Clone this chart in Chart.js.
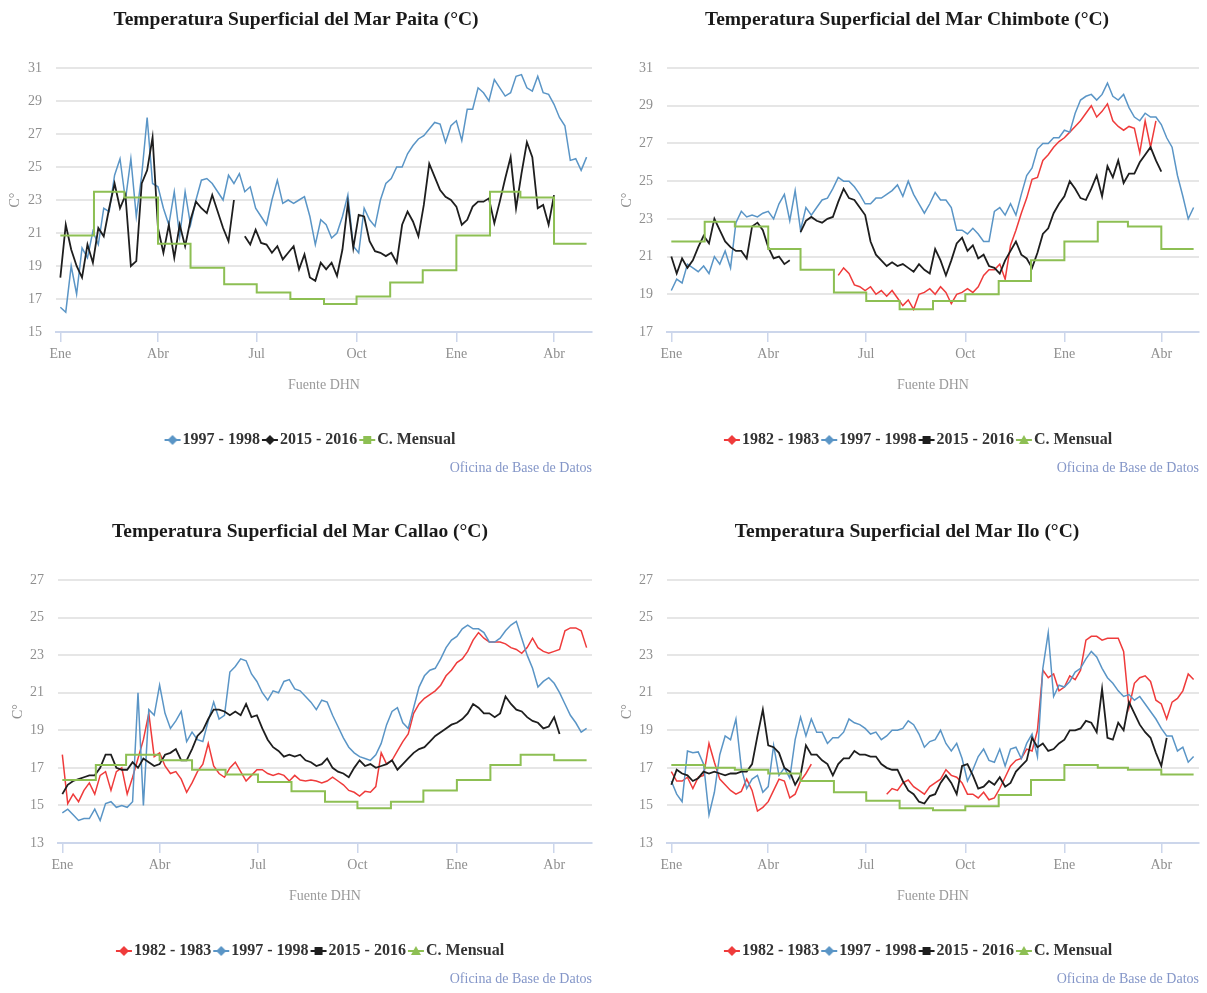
<!DOCTYPE html>
<html>
<head>
<meta charset="utf-8">
<title>Temperatura Superficial del Mar</title>
<script src="https://cdn.jsdelivr.net/npm/chart.js@4.4.1/dist/chart.umd.min.js"></script>
<style>
  html, body { margin: 0; padding: 0; background: #fff; }
  #wrap { position: relative; width: 1207px; height: 993px; }
  canvas { position: absolute; }
</style>
</head>
<body>
<div id="wrap">
  <canvas id="paita" width="603" height="496" style="left:0;top:0"></canvas>
  <canvas id="chimbote" width="604" height="496" style="left:603px;top:0"></canvas>
  <canvas id="callao" width="603" height="497" style="left:0;top:496px"></canvas>
  <canvas id="ilo" width="604" height="497" style="left:603px;top:496px"></canvas>
</div>
<script>
// x = days since 1 Jan of the first year; series values every 5 days
const STEP = 5;
const tickDays = [0, 90, 181, 273, 365, 455];
const tickLabels = ['Ene', 'Abr', 'Jul', 'Oct', 'Ene', 'Abr'];
const monthStarts = [0, 31, 59, 90, 120, 151, 181, 212, 243, 273, 304, 334, 365, 396, 424, 455, 485];

// Paita
const paitaBlue = [
  16.5,16.2,19.0,17.3,20.1,19.5,21.1,20.3,22.5,22.3,
  24.5,25.5,23.0,25.5,22.0,24.5,28.0,24.0,23.8,22.5,
  21.5,23.5,20.8,23.5,21.5,23.0,24.2,24.3,24.0,23.5,
  23.0,24.5,24.0,24.6,23.5,23.8,22.5,22.0,21.5,23.0,
  24.2,22.8,23.0,22.8,23.0,23.2,22.0,20.3,21.8,21.5,
  20.7,21.0,22.0,23.3,20.2,19.8,22.5,21.8,21.4,23.0,
  24.0,24.3,25.0,25.0,25.8,26.3,26.7,26.9,27.3,27.7,
  27.6,26.5,27.5,27.8,26.6,28.5,28.5,29.8,29.5,29.0,
  30.3,29.8,29.3,29.5,30.5,30.6,29.8,29.6,30.5,29.5,
  29.4,28.8,28.0,27.5,25.4,25.5,24.8,25.6
];
const paitaBlack = [
  18.3,21.5,20.0,19.0,18.3,20.3,19.2,21.3,20.8,22.5,
  24.0,22.5,23.3,19.0,19.3,24.0,24.8,26.8,21.3,19.8,
  21.5,19.5,21.5,20.2,21.8,22.9,22.5,22.2,23.3,22.3,
  21.3,20.5,23.0,null,20.8,20.3,21.2,20.4,20.3,19.8,
  20.2,19.4,19.8,20.2,18.8,19.7,18.3,18.1,19.2,18.8,
  19.2,18.4,20.0,22.8,20.1,22.1,22.0,20.5,19.9,19.8,
  19.6,19.8,19.2,21.5,22.3,21.7,20.8,22.7,25.2,24.4,
  23.6,23.2,23.0,22.6,21.5,21.8,22.6,22.9,22.9,23.1,
  21.6,22.9,24.3,25.6,22.5,24.6,26.5,25.6,22.5,22.7,
  21.5,23.3
];
const paitaClim = [20.85,23.5,23.15,20.35,18.9,17.9,17.4,17.0,16.7,17.15,18.0,18.75,20.85,23.5,23.15,20.35,20.35];

// Chimbote
const chimboteRedStart = 155;
const chimboteRed = [
  20.0,20.4,20.1,19.5,19.4,19.2,19.4,19.0,19.2,
  18.9,19.2,18.8,18.4,18.7,18.2,19.0,19.1,19.3,19.0,
  19.4,19.1,18.5,19.0,19.1,19.3,19.1,19.4,20.0,20.3,
  20.3,20.6,19.8,21.6,22.4,23.3,24.1,25.1,25.2,26.1,
  26.4,26.8,27.1,27.3,27.6,27.9,28.2,28.6,29.0,28.4,
  28.7,29.1,28.2,27.9,27.7,27.9,27.8,26.5,28.2,26.8,
  28.2
];
const chimboteBlue = [
  19.2,19.8,19.6,20.6,20.4,20.2,20.5,20.1,21.0,20.6,
  21.3,20.4,22.8,23.4,23.1,23.2,23.1,23.3,23.4,23.0,
  23.8,24.3,22.9,24.5,22.4,23.6,23.2,23.6,24.0,24.1,
  24.6,25.2,25.0,25.0,24.7,24.3,23.8,23.8,24.1,24.1,
  24.3,24.5,24.8,24.2,25.0,24.3,23.8,23.3,23.8,24.4,
  24.0,24.0,23.6,22.4,22.4,22.2,22.5,22.2,21.8,21.8,
  23.4,23.6,23.2,23.8,23.2,24.3,25.3,25.7,26.7,27.0,
  27.0,27.3,27.3,27.7,27.6,28.6,29.3,29.5,29.6,29.3,
  29.6,30.2,29.5,29.3,29.6,28.9,28.4,28.2,28.6,28.4,
  28.4,28.0,27.3,26.8,25.3,24.2,23.0,23.6
];
const chimboteBlack = [
  21.0,20.1,20.9,20.4,20.8,21.5,22.1,21.7,23.0,22.4,
  21.8,21.5,21.3,21.3,20.9,22.6,22.8,22.4,21.5,20.9,
  21.0,20.6,20.8,null,22.3,22.9,23.1,22.9,22.8,23.0,
  23.1,23.9,24.6,24.1,24.0,23.6,23.2,21.8,21.1,20.8,
  20.5,20.7,20.5,20.6,20.4,20.2,20.6,20.3,20.1,21.4,
  20.8,20.0,20.8,21.7,22.0,21.3,21.6,20.9,21.1,20.5,
  20.4,20.1,20.8,21.3,21.8,21.1,20.9,20.4,21.2,22.2,
  22.5,23.3,23.8,24.2,25.0,24.6,24.1,24.0,24.6,25.3,
  24.2,25.8,25.2,26.1,24.9,25.4,25.4,26.0,26.4,26.8,
  26.1,25.5
];
const chimboteClim = [21.8,22.85,22.6,21.4,20.3,19.1,18.65,18.2,18.65,19.0,19.7,20.8,21.8,22.85,22.6,21.4,21.4];

// Callao
const callaoRed = [
  17.7,15.1,15.6,15.2,15.8,16.2,15.6,16.6,16.8,15.8,
  16.8,17.0,15.6,16.5,17.5,18.5,19.9,17.6,17.8,17.1,
  16.7,16.8,16.4,15.7,16.2,16.8,17.2,18.3,17.1,16.7,
  16.5,17.0,17.3,16.8,16.3,16.6,16.9,16.9,16.7,16.6,
  16.7,16.6,16.3,16.6,16.35,16.3,16.35,16.3,16.2,16.3,
  16.5,16.3,16.1,15.8,15.7,15.5,15.75,15.7,16.0,17.8,
  17.2,17.4,17.9,18.4,18.8,19.9,20.4,20.7,20.9,21.1,
  21.4,21.9,22.2,22.6,22.8,23.2,23.8,24.2,23.9,23.7,
  23.7,23.7,23.6,23.4,23.3,23.1,23.4,23.9,23.4,23.2,
  23.1,23.2,23.3,24.3,24.45,24.45,24.3,23.4
];
const callaoBlue = [
  14.6,14.8,14.5,14.2,14.3,14.3,14.8,14.2,15.1,15.2,
  14.9,15.0,14.9,15.2,21.0,15.0,20.1,19.8,21.4,19.9,
  19.1,19.5,20.0,18.4,18.9,18.5,18.4,19.5,20.5,19.6,
  19.8,22.1,22.4,22.8,22.7,22.0,21.6,21.0,20.6,21.1,
  21.0,21.6,21.7,21.2,21.1,20.8,20.5,20.1,20.6,20.5,
  19.8,19.2,18.6,18.1,17.8,17.6,17.5,17.4,17.7,18.3,
  19.3,20.0,20.2,19.4,19.1,20.2,21.3,21.9,22.2,22.3,
  22.8,23.4,23.8,24.0,24.4,24.6,24.4,24.4,24.2,23.7,
  23.7,23.9,24.3,24.6,24.8,23.9,23.0,22.3,21.3,21.6,
  21.8,21.5,21.0,20.4,19.8,19.4,18.9,19.1
];
const callaoBlack = [
  15.6,16.1,16.3,16.4,16.5,16.6,16.6,17.0,17.7,17.7,
  17.0,16.9,16.9,17.3,17.0,17.5,17.3,17.1,17.2,17.7,
  17.8,18.0,17.4,17.4,18.0,18.7,19.0,19.6,20.1,20.1,
  20.0,19.8,20.0,19.8,20.4,19.7,19.8,19.1,18.5,18.1,
  17.9,17.6,17.7,17.6,17.7,17.4,17.3,17.1,17.2,17.5,
  17.0,16.8,16.7,16.5,17.0,17.4,17.1,17.2,17.0,17.1,
  17.2,17.4,16.9,17.2,17.5,17.8,18.0,18.1,18.4,18.7,
  18.9,19.1,19.3,19.4,19.6,19.9,20.4,20.2,19.9,19.9,
  19.7,19.9,20.8,20.4,20.1,20.0,19.7,19.5,19.4,19.1,
  19.2,19.7,18.8
];
const callaoClim = [16.35,17.15,17.7,17.4,16.9,16.65,16.25,15.75,15.2,14.85,15.2,15.8,16.35,17.15,17.7,17.4,17.4];

// Ilo
const iloRed = [
  16.8,16.3,16.3,16.5,15.9,16.5,16.6,18.3,17.3,16.4,
  16.1,15.8,15.6,15.75,16.4,15.8,14.7,14.9,15.2,15.8,
  16.4,16.3,15.4,15.6,16.3,16.7,17.2,null,null,null,
  null,null,null,null,null,null,null,null,null,null,
  15.6,15.9,15.8,16.2,16.35,16.0,15.8,15.6,16.0,16.2,
  16.4,16.9,16.6,16.5,16.2,15.6,15.6,15.4,15.7,15.3,
  15.4,15.9,16.5,17.1,17.4,17.5,18.0,17.9,19.0,22.2,
  21.8,22.0,21.1,21.3,21.9,21.7,22.2,23.8,24.0,24.0,
  23.8,23.9,23.9,23.9,23.2,20.2,21.5,21.8,21.9,21.6,
  20.6,20.4,19.6,20.5,20.7,21.1,22.0,21.7
];
const iloBlue = [
  16.3,15.6,15.2,17.9,17.8,17.85,17.2,14.5,15.7,17.7,
  18.7,18.5,19.6,17.0,15.9,16.4,16.6,15.7,16.0,18.2,
  16.6,17.0,16.45,18.5,19.7,18.7,19.6,18.9,18.9,18.3,
  18.6,18.6,18.9,19.6,19.4,19.3,19.1,18.8,18.9,18.5,
  18.7,19.0,19.0,19.1,19.5,19.3,18.8,18.1,18.4,18.5,
  19.0,18.3,17.9,18.3,17.5,16.3,16.9,17.6,18.0,17.4,
  17.3,18.0,17.1,18.0,18.1,17.5,18.3,18.8,17.6,22.3,
  24.2,20.8,21.4,21.3,21.6,22.1,22.3,22.8,23.2,22.9,
  22.3,21.8,21.5,21.1,20.8,20.9,20.6,20.8,20.4,20.0,
  19.6,19.1,18.7,18.7,17.9,18.1,17.3,17.6
];
const iloBlack = [
  16.1,16.9,16.7,16.6,16.3,16.45,16.8,16.7,16.8,16.7,
  16.6,16.7,16.7,16.8,16.8,17.2,18.7,20.1,18.2,18.1,
  17.8,17.0,16.8,16.1,16.6,18.2,17.7,17.7,17.4,17.2,
  16.6,17.2,17.5,17.5,17.9,17.7,17.7,17.6,17.6,17.2,
  17.0,16.9,16.9,16.3,15.8,15.6,15.2,15.1,15.5,15.6,
  16.2,16.6,16.2,15.6,17.1,17.2,16.6,15.9,16.0,16.3,
  16.1,16.5,16.0,16.2,16.8,17.1,17.4,18.6,18.1,18.3,
  17.9,18.0,18.3,18.5,19.0,19.0,19.1,19.5,19.4,18.9,
  21.2,18.6,18.5,19.4,19.0,20.5,19.9,19.3,18.9,18.6,
  17.8,17.1,18.6
];
const iloClim = [17.15,17.0,16.9,16.7,16.3,15.7,15.25,14.85,14.75,14.95,15.55,16.35,17.15,17.0,16.9,16.65,16.65];

const RED = '#ef3b3b', BLUE = '#5a95c6', BLACK = '#1e1e1e', GREEN = '#8dbf53';
const SERIF = '"Liberation Serif", "Times New Roman", serif';

function pts(values, start) {
  return values.map((v, i) => ({ x: (start || 0) + i * STEP, y: v }));
}
function steps(values) {
  return monthStarts.map((d, i) => ({ x: d, y: values[i] }));
}

// legend symbol: short line with a marker, drawn in the right part of the image
function marker(color, shape) {
  const c = document.createElement('canvas');
  c.width = 26; c.height = 12;
  const g = c.getContext('2d');
  g.translate(9, 0);
  g.strokeStyle = color; g.lineWidth = 2;
  g.beginPath(); g.moveTo(0, 6); g.lineTo(16, 6); g.stroke();
  g.fillStyle = color;
  g.beginPath();
  if (shape === 'diamond') { g.moveTo(8, 1); g.lineTo(13, 6); g.lineTo(8, 11); g.lineTo(3, 6); }
  else if (shape === 'square') { g.rect(4, 2, 8, 8); }
  else { g.moveTo(8, 1); g.lineTo(13, 10); g.lineTo(3, 10); }
  g.closePath(); g.fill();
  return c;
}

function line(label, color, shape, data, width, stepped) {
  return {
    label, data, borderColor: color, backgroundColor: color,
    borderWidth: width || 1.5, pointRadius: 0, pointHoverRadius: 0,
    pointStyle: marker(color, shape), tension: 0, spanGaps: false,
    stepped: !!stepped
  };
}

// move legend / title sideways after layout
const shiftBoxes = {
  id: 'shiftBoxes',
  afterLayout(chart, args, opts) {
    if (opts.legend && chart.legend) { chart.legend.left += opts.legend; chart.legend.right += opts.legend; }
    if (opts.title && chart.titleBlock) { chart.titleBlock.left += opts.title; chart.titleBlock.right += opts.title; }
  }
};

function panel(id, title, yMin, yMax, datasets, lay) {
  const n = datasets.length;
  datasets.forEach((d, i) => { d.order = n - 1 - i; });
  new Chart(document.getElementById(id), {
    type: 'line',
    data: { datasets },
    plugins: [shiftBoxes],
    options: {
      responsive: false,
      animation: false,
      events: [],
      layout: { padding: { left: 0, right: lay.padRight, top: 0, bottom: lay.padBottom } },
      plugins: {
        shiftBoxes: { legend: lay.legendShift, title: lay.titleShift },
        title: {
          display: true, text: title, color: '#1a1a1a',
          font: { family: SERIF, size: 19.5, weight: 'bold' },
          padding: { top: lay.titleTop, bottom: lay.chartTop - lay.titleTop - 23.4 }
        },
        subtitle: {
          display: true, text: 'Oficina de Base de Datos', position: 'bottom', align: 'end',
          color: '#8496c8', font: { family: SERIF, size: 14, weight: 'normal' },
          padding: { top: 2, bottom: lay.creditBottom }
        },
        legend: {
          position: 'bottom',
          labels: {
            usePointStyle: true, pointStyleWidth: 12, padding: 0,
            color: '#333', font: { family: SERIF, size: 16, weight: 'bold' },
            sort: (a, b) => a.datasetIndex - b.datasetIndex
          }
        },
        tooltip: { enabled: false }
      },
      scales: {
        x: {
          type: 'linear', min: -4, max: 490,
          afterBuildTicks: (s) => { s.ticks = tickDays.map(v => ({ value: v })); },
          afterFit: (s) => { s.height = 100; },
          ticks: {
            autoSkip: false, maxRotation: 0, padding: 4, color: '#8f8f8f',
            font: { family: SERIF, size: 14 },
            callback: (v, i) => tickLabels[i]
          },
          grid: { drawOnChartArea: false, drawTicks: true, tickLength: 10, color: '#ccd6eb', lineWidth: 1.5 },
          border: { display: true, color: '#ccd6eb', width: 2 },
          title: {
            display: true, text: 'Fuente DHN', color: '#9a9a9a',
            font: { family: SERIF, size: 14 }, padding: { top: 0, bottom: 38.6 }
          }
        },
        y: {
          min: yMin, max: yMax,
          afterFit: (s) => { s.width = lay.chartLeft; },
          ticks: { stepSize: 2, padding: 14, color: '#8f8f8f', font: { family: SERIF, size: 14 } },
          grid: { color: '#e6e6e6', lineWidth: 2, drawTicks: false },
          border: { display: false },
          title: {
            display: true, text: 'C°', color: '#8f8f8f',
            font: { family: SERIF, size: 14 }, padding: { top: lay.yTitlePad, bottom: 0 }
          }
        }
      }
    }
  });
}

function fourSeries(red, blue, black, clim) {
  return [
    line('1982 - 1983', RED, 'diamond', red),
    line('1997 - 1998', BLUE, 'diamond', blue),
    line('2015 - 2016', BLACK, 'square', black, 1.8),
    line('C. Mensual', GREEN, 'triangle', clim, 2, true)
  ];
}

panel('paita', 'Temperatura Superficial del Mar Paita (°C)', 15, 31, [
  line('1997 - 1998', BLUE, 'diamond', pts(paitaBlue)),
  line('2015 - 2016', BLACK, 'diamond', pts(paitaBlack), 1.8),
  line('C. Mensual', GREEN, 'square', steps(paitaClim), 2, true)
], { chartLeft: 56, padRight: 11, chartTop: 68, titleTop: 8, yTitlePad: 6.6, padBottom: 9.2, creditBottom: 10, legendShift: 13, titleShift: 0 });

panel('chimbote', 'Temperatura Superficial del Mar Chimbote (°C)', 17, 31,
  fourSeries(pts(chimboteRed, chimboteRedStart), pts(chimboteBlue), pts(chimboteBlack), steps(chimboteClim)),
  { chartLeft: 64, padRight: 8, chartTop: 68, titleTop: 8, yTitlePad: 15.6, padBottom: 9.2, creditBottom: 10, legendShift: 16, titleShift: 6 });

panel('callao', 'Temperatura Superficial del Mar Callao (°C)', 13, 27,
  fourSeries(pts(callaoRed), pts(callaoBlue), pts(callaoBlack), steps(callaoClim)),
  { chartLeft: 58, padRight: 11, chartTop: 84, titleTop: 24, yTitlePad: 9.6, padBottom: 1.2, creditBottom: 4, legendShift: 13, titleShift: 4 });

panel('ilo', 'Temperatura Superficial del Mar Ilo (°C)', 13, 27,
  fourSeries(pts(iloRed), pts(iloBlue), pts(iloBlack), steps(iloClim)),
  { chartLeft: 64, padRight: 8, chartTop: 84, titleTop: 24, yTitlePad: 15.6, padBottom: 1.2, creditBottom: 4, legendShift: 16, titleShift: 6 });
</script>
</body>
</html>
